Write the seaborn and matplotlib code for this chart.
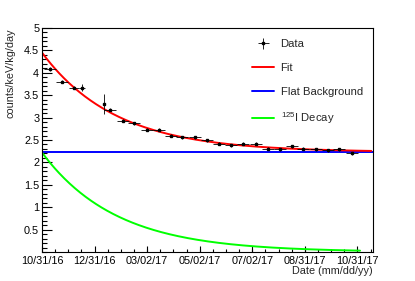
import numpy as np
import pandas as pd
import matplotlib
matplotlib.use("Agg")
import matplotlib.pyplot as plt
import seaborn as sns

# data points (days since 10/31/16)
days = [9.3, 23.2, 37.1, 46.3, 71.8, 78.8, 93.9, 106.6, 121.7, 135.6, 149.5, 162.2, 177.3,
        191.2, 205.1, 219.0, 232.9, 247.9, 261.9, 275.8, 289.7, 302.4, 317.5, 331.4, 344.1, 359.2]
rate = [4.09, 3.80, 3.67, 3.67, 3.31, 3.18, 2.93, 2.87, 2.73, 2.73, 2.60, 2.56, 2.56,
        2.49, 2.42, 2.38, 2.42, 2.42, 2.31, 2.29, 2.36, 2.31, 2.29, 2.27, 2.29, 2.20]
days_err = [7, 7, 6, 3, 1, 7, 7, 7, 7, 7, 7, 7, 7,
            7, 7, 7, 7, 7, 7, 7, 7, 7, 7, 7, 7, 7]
rate_err = [0.04, 0.03, 0.04, 0.08, 0.22, 0.04, 0.03, 0.03, 0.03, 0.03, 0.03, 0.03, 0.03,
            0.03, 0.03, 0.03, 0.03, 0.03, 0.03, 0.03, 0.03, 0.03, 0.03, 0.03, 0.03, 0.03]

# fit parameters
flat_bkg = 2.23
i125_amp = 2.22
i125_halflife = 59.4  # days

tick_days = [0, 60.83, 121.67, 182.5, 243.33, 304.17, 365.0]
tick_labels = ["10/31/16", "12/31/16", "03/02/17", "05/02/17", "07/02/17", "08/31/17", "10/31/17"]

sns.set_style("ticks")
plt.rcParams["font.family"] = ["Liberation Sans", "DejaVu Sans"]
plt.rcParams["mathtext.default"] = "regular"

fig = plt.figure(figsize=(4.15, 2.81), dpi=100)
ax = fig.add_axes([42 / 415, 29 / 281, 331 / 415, 224 / 281])

tau = i125_halflife / np.log(2)
t_fit = np.linspace(0, 381, 300)
t_dec = np.linspace(0, 368, 300)
t_flat = np.array([0, 383])
fit_df = pd.DataFrame({"t": t_fit, "v": flat_bkg + i125_amp * np.exp(-t_fit / tau)})
dec_df = pd.DataFrame({"t": t_dec, "v": i125_amp * np.exp(-t_dec / tau)})
flat_df = pd.DataFrame({"t": t_flat, "v": [flat_bkg, flat_bkg]})

sns.lineplot(data=flat_df, x="t", y="v", color=(0, 0, 1), lw=1.4, ax=ax, label="Flat Background")
sns.lineplot(data=dec_df, x="t", y="v", color=(0, 1, 0), lw=1.4, ax=ax, label="$^{125}$I Decay")
sns.lineplot(data=fit_df, x="t", y="v", color=(1, 0, 0), lw=1.4, ax=ax, label="Fit")
eb = ax.errorbar(days, rate, xerr=days_err, yerr=rate_err, fmt="s", color="black",
                 ms=1.8, elinewidth=0.6, capsize=0, label="Data", zorder=5)

ax.set_xlim(0, 383)
ax.set_ylim(0, 5)
ax.set_xticks(tick_days)
ax.set_xticklabels(tick_labels)
ax.set_xticks(np.arange(0, 383, 60.83 / 4), minor=True)
ax.set_yticks(np.arange(0.5, 5.01, 0.5))
ax.set_yticklabels(["0.5", "1", "1.5", "2", "2.5", "3", "3.5", "4", "4.5", "5"])
ax.set_yticks(np.arange(0, 5.01, 0.1), minor=True)
ax.tick_params(axis="both", which="both", direction="in", labelsize=7.8, colors="black", width=0.8)
ax.tick_params(axis="x", which="major", length=4.3, pad=3)
ax.tick_params(axis="x", which="minor", length=2.2)
ax.tick_params(axis="y", which="major", length=7, pad=2)
ax.tick_params(axis="y", which="minor", length=3.5)
for s in ax.spines.values():
    s.set_linewidth(0.8)
    s.set_color("black")

ax.set_ylabel("counts/keV/kg/day", fontsize=7.8, loc="top")
ax.yaxis.set_label_coords(-0.079, 1.0)
ax.set_xlabel("Date (mm/dd/yy)", fontsize=7.8, loc="right")
ax.xaxis.set_label_coords(1.0, -0.085)
ax.xaxis.label.set_va("center")

handles, labels = ax.get_legend_handles_labels()
order = ["Data", "Fit", "Flat Background", "$^{125}$I Decay"]
hmap = dict(zip(labels, handles))
leg = ax.legend([hmap[k] for k in order], order, loc="upper left", bbox_to_anchor=(0.605, 0.995),
                frameon=False, fontsize=8.1, handlelength=1.95, handletextpad=0.55,
                labelspacing=1.22)

fig.savefig("out.png", dpi=100)
